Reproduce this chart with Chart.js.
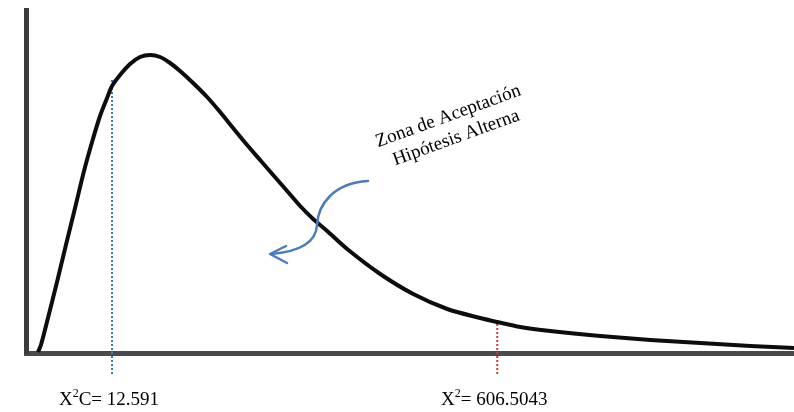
<!DOCTYPE html>
<html>
<head>
<meta charset="utf-8">
<script src="https://cdn.jsdelivr.net/npm/chart.js@4/dist/chart.umd.min.js"></script>
<style>
  html, body { margin: 0; padding: 0; background: #ffffff; }
  #wrap { width: 794px; height: 412px; }
</style>
</head>
<body>
<div id="wrap"><canvas id="chart" width="794" height="412"></canvas></div>
<script>
// Chi-square statistic (log axis) and density height of the sketched curve
const curveX = [5.98, 6.16, 6.61, 7.24, 7.92, 8.68, 9.50, 10.30, 11.16, 11.98, 12.591,
                13.65, 15.09, 16.69, 18.46, 20.42, 22.58, 24.96, 28.46, 32.76, 37.34,
                42.56, 49.00, 55.85, 63.66, 73.28, 83.53, 95.21, 109.6, 134.0, 186.9,
                260.5, 366.8, 511.1, 606.5043, 764.5, 1034, 1710, 2829, 4678, 7738, 12000];
const curveY = [1, 8, 35, 71, 108, 145, 182, 211, 237, 255, 267,
                278, 289, 296, 298, 296, 290, 282, 270, 256, 241,
                225, 208, 193, 178, 162, 147, 134, 122, 104, 79,
                59, 44, 35, 31, 26, 22, 17, 13, 10, 7, 5];

// Critical value and observed statistic
const chiCritical = 12.591;
const chiObserved = 606.5043;
const criticalHeight = 273;   // top of the critical-value guide
const observedHeight = 29;    // top of the observed-statistic guide
const guideBottom = -23;      // guides run a little below the axis

const annotationLines = ['Zona de Aceptación', 'Hipótesis Alterna'];

const curvePoints = curveX.map((x, i) => ({ x: x, y: curveY[i] }));

const labelsPlugin = {
  id: 'chiLabels',
  afterDraw(chart) {
    const ctx = chart.ctx;
    const xs = chart.scales.x;
    const serif = '"Liberation Serif", "Times New Roman", serif';

    // value labels under each guide: X² with superscript
    function chiLabel(prefixAfterSup, value) {
      const cx = xs.getPixelForValue(value);
      const baseY = 405;
      ctx.save();
      ctx.fillStyle = '#000';
      ctx.textBaseline = 'alphabetic';
      const big = '19px ' + serif, small = '12px ' + serif;
      ctx.font = big;
      const wX = ctx.measureText('X').width;
      const wRest = ctx.measureText(prefixAfterSup + value).width;
      ctx.font = small;
      const wSup = ctx.measureText('2').width;
      const total = wX + wSup + wRest;
      let x = cx - total / 2 - 3;
      ctx.font = big;
      ctx.fillText('X', x, baseY);
      x += wX;
      ctx.font = small;
      ctx.fillText('2', x, baseY - 8);
      x += wSup;
      ctx.font = big;
      ctx.fillText(prefixAfterSup + value, x, baseY);
      ctx.restore();
    }
    chiLabel('C= ', chiCritical);
    chiLabel('= ', chiObserved);

    // rotated note
    ctx.save();
    ctx.fillStyle = '#000';
    ctx.font = '19px ' + serif;
    ctx.textAlign = 'center';
    ctx.textBaseline = 'alphabetic';
    ctx.translate(450, 121);
    ctx.rotate(-20 * Math.PI / 180);
    annotationLines.forEach((t, i) => ctx.fillText(t, 0, i * 23));
    ctx.restore();

    // curved pointer arrow
    ctx.save();
    ctx.strokeStyle = '#4a7ebb';
    ctx.lineWidth = 2.5;
    ctx.lineCap = 'round';
    ctx.lineJoin = 'round';
    ctx.beginPath();
    ctx.moveTo(368, 181);
    ctx.bezierCurveTo(333, 183, 318, 205, 317, 225);
    ctx.bezierCurveTo(316, 245, 295, 252, 271, 254);
    ctx.stroke();
    ctx.beginPath();
    ctx.moveTo(286, 246);
    ctx.lineTo(270, 254);
    ctx.lineTo(287, 263);
    ctx.stroke();
    ctx.restore();
  }
};

new Chart(document.getElementById('chart'), {
  type: 'line',
  data: {
    datasets: [
      {
        data: curvePoints,
        borderColor: '#0d0d0d',
        borderWidth: 4,
        pointRadius: 0,
        tension: 0.3,
        fill: false
      },
      {
        data: [{ x: chiCritical, y: criticalHeight }, { x: chiCritical, y: guideBottom }],
        borderColor: '#3f74c9',
        borderWidth: 2,
        borderDash: [2, 2],
        pointRadius: 0,
        clip: false
      },
      {
        data: [{ x: chiObserved, y: observedHeight }, { x: chiObserved, y: guideBottom }],
        borderColor: '#d23c3c',
        borderWidth: 2,
        borderDash: [2, 2],
        pointRadius: 0,
        clip: false
      }
    ]
  },
  options: {
    responsive: false,
    animation: false,
    devicePixelRatio: 1,
    layout: { padding: { left: 26, top: 10, right: 0, bottom: 59 } },
    plugins: { legend: { display: false }, tooltip: { enabled: false } },
    scales: {
      x: {
        type: 'logarithmic',
        min: 5.3,
        max: 12000,
        grid: { display: true, color: 'transparent', drawTicks: false },
        ticks: { display: false },
        border: { display: true, color: '#4a4a4a', width: 5 }
      },
      y: {
        type: 'linear',
        min: 0,
        max: 343,
        grid: { display: true, color: 'transparent', drawTicks: false },
        ticks: { display: false },
        border: { display: true, color: '#3c3c3c', width: 5 }
      }
    }
  },
  plugins: [labelsPlugin]
});
</script>
</body>
</html>
